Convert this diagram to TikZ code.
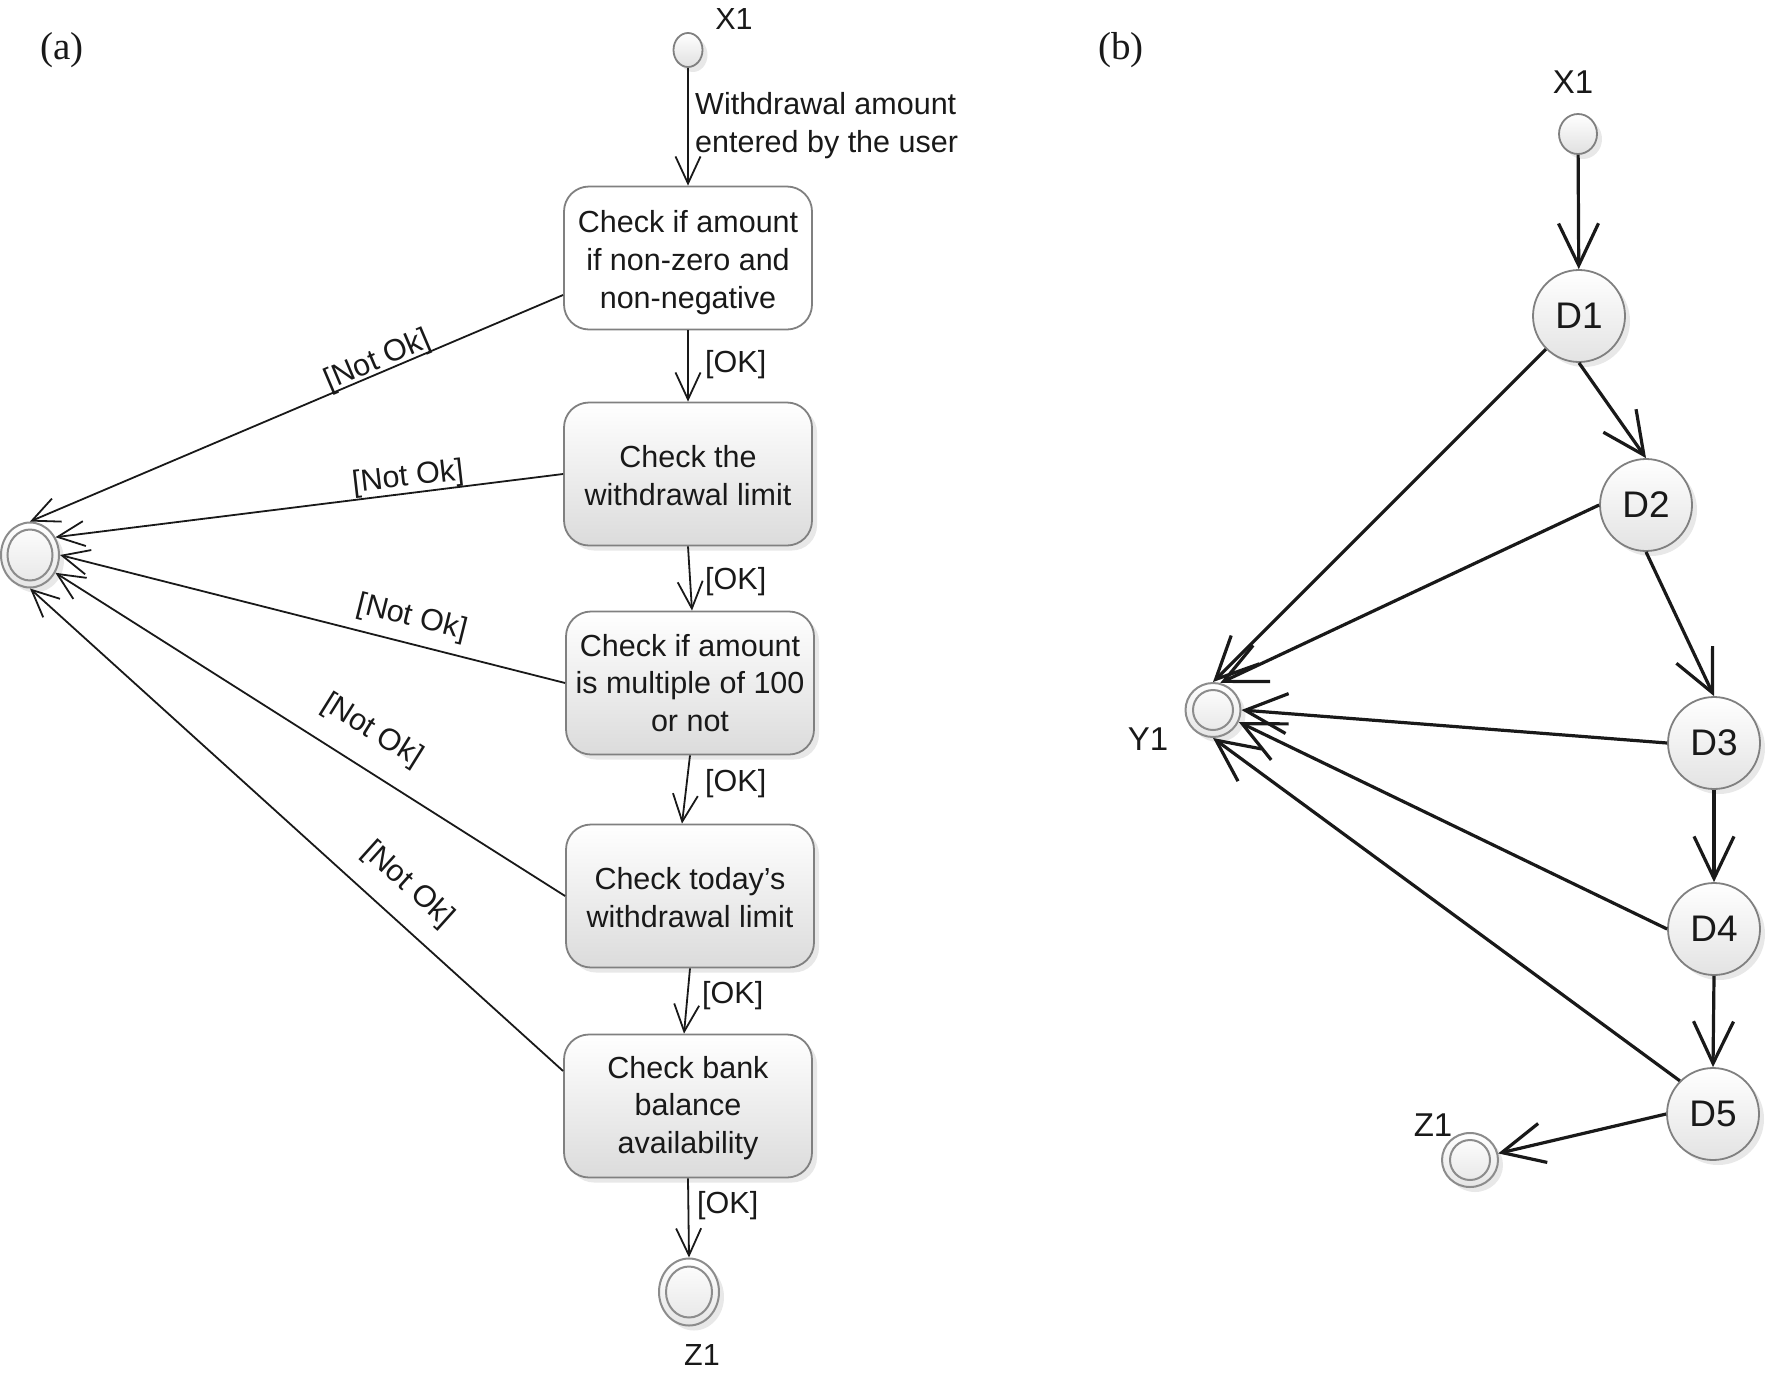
\documentclass[tikz,border=0pt]{standalone}
\usepackage{fontspec}
\setmainfont{Liberation Sans}
\newfontfamily\serifff{Liberation Serif}
\usetikzlibrary{arrows.meta,shapes.geometric,shadows}
\begin{document}
\begin{tikzpicture}[x=1pt,y=-1pt,
  txt/.style={font=\fontsize{30.5}{37.8}\selectfont, text=black!90, inner sep=2pt},
  biglbl/.style={font=\fontsize{33}{38}\selectfont, text=black!90, inner sep=0pt},
  panel/.style={font=\serifff\fontsize{39}{42}\selectfont, text=black!90, inner sep=0pt},
  shd/.style={drop shadow={shadow xshift=5pt, shadow yshift=-5pt, fill=black!9, opacity=1}},
  actbox/.style={txt, draw=black!50, line width=1.8pt, rounded corners=25pt,
    minimum width=248pt, minimum height=143pt, align=center, inner sep=3pt, fill=white},
  shadedbox/.style={actbox, top color=white, bottom color=black!14, shd},
  initst/.style={ellipse, draw=black!50, line width=1.8pt, top color=white,
    bottom color=black!12, inner sep=0pt, shd},
  finout/.style={ellipse, draw=black!45, line width=2pt, top color=white,
    bottom color=black!10, inner sep=0pt, shd},
  fininn/.style={ellipse, draw=black!45, line width=2pt, inner sep=0pt},
  dnode/.style={circle, draw=black!50, line width=1.8pt, top color=white,
    bottom color=black!11, minimum size=92pt, inner sep=0pt,
    font=\fontsize{37}{40}\selectfont, text=black!90, shd},
  aarr/.style={draw=black!90, line width=1.8pt,
    -{Straight Barb[length=27pt, width=25pt, line width=1.8pt]}},
  barr/.style={draw=black!90, line width=3.2pt,
    -{Straight Barb[length=42pt, width=40pt, line width=3.2pt]}}
]
\useasboundingbox (0,0) rectangle (1767,1374);

% ---------------- panel (a) ----------------
\node[panel] (pa) at (62,50) {(a)};
\node[initst, minimum width=29pt, minimum height=34pt] (ax1) at (688,50) {};
\node[txt] (ax1l) at (734,19) {X1};

\node[actbox] (b1) at (688,258) {\rule{0pt}{31pt}Check if amount\\if non-zero and\\non-negative};
\node[shadedbox] (b2) at (688,474) {\rule{0pt}{26pt}Check the\\withdrawal limit};
\node[shadedbox] (b3) at (690,683) {Check if amount\\is multiple of 100\\or not};
\node[shadedbox] (b4) at (690,896) {\rule{0pt}{26pt}Check today's\\withdrawal limit};
\node[shadedbox] (b5) at (688,1106) {\rule{0pt}{26pt}Check bank\\balance\\availability};

\node[finout, minimum width=60pt, minimum height=67pt] (az1) at (689,1292) {};
\node[fininn, minimum width=46pt, minimum height=51pt] (az1i) at (689,1292) {};
\node[txt] (az1l) at (702,1355) {Z1};

\node[finout, minimum width=58pt, minimum height=65pt] (afin) at (30,555) {};
\node[fininn, minimum width=45pt, minimum height=51pt] (afini) at (30,555) {};

\draw[aarr] (ax1) -- (b1);
\node[txt, anchor=west, align=left] (wlbl) at (693,125.5) {Withdrawal amount\\entered by the user};

\draw[aarr] (b1.south) -- (b2.north);
\draw[aarr] (b2.south) -- ([xshift=2pt]b3.north);
\draw[aarr] (b3.south) -- ([xshift=-8pt]b4.north);
\draw[aarr] (b4.south) -- ([xshift=-4pt]b5.north);
\draw[aarr] (b5.south) -- (az1.north);

\node[txt, anchor=west] (ok1) at (703,364.5) {[OK]};
\node[txt, anchor=west] (ok2) at (703,582) {[OK]};
\node[txt, anchor=west] (ok3) at (703,783.5) {[OK]};
\node[txt, anchor=west] (ok4) at (700,995.5) {[OK]};
\node[txt, anchor=west] (ok5) at (695,1205.5) {[OK]};

\draw[aarr] ([yshift=-37pt]b1.west) -- (afin.90);
\draw[aarr] (b2.west) -- (afin.35);
\draw[aarr] (b3.west) -- (afin.0);
\draw[aarr] (b4.west) -- (afin.-35);
\draw[aarr] ([yshift=35pt]b5.west) -- (afin.-90);

\node[txt, rotate=23] (n1) at (378,361) {[Not Ok]};
\node[txt, rotate=6.5] (n2) at (408,478) {[Not Ok]};
\node[txt, rotate=-14] (n3) at (412,618) {[Not Ok]};
\node[txt, rotate=-32] (n4) at (372,731) {[Not Ok]};
\node[txt, rotate=-42] (n5) at (408,885) {[Not Ok]};

% ---------------- panel (b) ----------------
\node[panel] (pb) at (1121,50) {(b)};
\node[initst, minimum width=38pt, minimum height=40pt] (bx1) at (1578,134) {};
\node[biglbl] (bx1l) at (1573,82) {X1};

\node[dnode] (d1) at (1579,316) {D1};
\node[dnode] (d2) at (1646,505) {D2};
\node[dnode] (d3) at (1714,743) {D3};
\node[dnode] (d4) at (1714,929) {D4};
\node[dnode] (d5) at (1713,1114) {D5};

\node[finout, minimum width=55pt, minimum height=54pt] (y1) at (1213,710) {};
\node[fininn, minimum width=40pt, minimum height=40pt] (y1i) at (1213,710) {};
\node[biglbl] (y1l) at (1148,739) {Y1};

\node[finout, minimum width=56pt, minimum height=54pt] (z1) at (1470,1160) {};
\node[fininn, minimum width=40pt, minimum height=40pt] (z1i) at (1470,1160) {};
\node[biglbl] (z1l) at (1433,1125) {Z1};

\draw[barr] (bx1) -- (d1);
\draw[barr] (d1.south) -- (d2.north);
\draw[barr] (d2.south) -- (d3.north);
\draw[barr] (d3.south) -- (d4.north);
\draw[barr] (d4.south) -- (d5.north);
\draw[barr] (d5.west) -- (z1);

\draw[barr] (d1.225) -- (y1.north);
\draw[barr] (d2.west) -- (y1.75);
\draw[barr] (d3.west) -- (y1.0);
\draw[barr] (d4.west) -- (y1.-25);
\draw[barr] (d5.135) -- (y1.south);
\end{tikzpicture}
\end{document}
